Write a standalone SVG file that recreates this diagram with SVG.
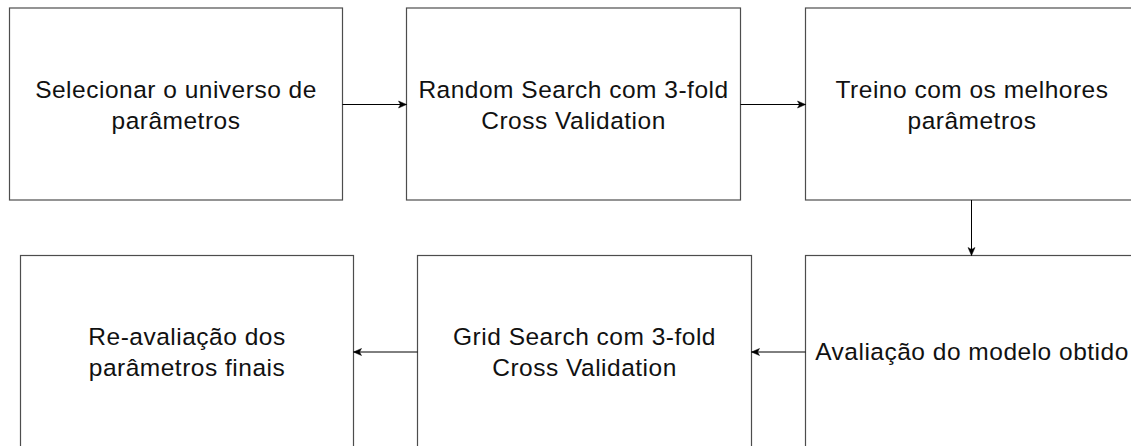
<svg xmlns="http://www.w3.org/2000/svg" width="1131" height="446" viewBox="0 0 1131 446">
  <defs>
    <style>
      .box { fill: #ffffff; stroke: #4d4d4d; stroke-width: 1.2; }
      .lbl { font-family: "Liberation Sans", Arial, Helvetica, sans-serif; font-size: 24.5px; letter-spacing: 0.5px; fill: #111111; text-anchor: middle; }
      .edge { fill: none; stroke: #000000; stroke-width: 1; marker-end: url(#arr); }
    </style>
    <marker id="arr" markerUnits="userSpaceOnUse" markerWidth="10" markerHeight="10" viewBox="0 0 10 10" refX="9" refY="5" orient="auto">
      <path d="M1,1.5 L9,5 L1,8.5 L3,5 Z" fill="#000000" stroke="#000000" stroke-width="0.5"/>
    </marker>
  </defs>
  <rect x="0" y="0" width="1131" height="446" fill="#ffffff"/>

  <g id="n1">
    <rect class="box" x="9.5" y="8" width="333" height="192"/>
    <text class="lbl" x="176" y="97.5">Selecionar o universo de</text>
    <text class="lbl" x="176" y="128.5">parâmetros</text>
  </g>
  <g id="n2">
    <rect class="box" x="406.5" y="8" width="334" height="192"/>
    <text class="lbl" x="573.5" y="97.5">Random Search com 3-fold</text>
    <text class="lbl" x="573.5" y="128.5">Cross Validation</text>
  </g>
  <g id="n3">
    <rect class="box" x="805.5" y="8" width="333" height="192"/>
    <text class="lbl" x="972" y="97.5">Treino com os melhores</text>
    <text class="lbl" x="972" y="128.5">parâmetros</text>
  </g>
  <g id="n4">
    <rect class="box" x="805.5" y="255.5" width="333" height="193"/>
    <text class="lbl" x="972" y="360">Avaliação do modelo obtido</text>
  </g>
  <g id="n5">
    <rect class="box" x="417.5" y="255.5" width="334" height="193"/>
    <text class="lbl" x="584.5" y="345">Grid Search com 3-fold</text>
    <text class="lbl" x="584.5" y="376">Cross Validation</text>
  </g>
  <g id="n6">
    <rect class="box" x="20.5" y="255.5" width="333" height="193"/>
    <text class="lbl" x="187" y="345">Re-avaliação dos</text>
    <text class="lbl" x="187" y="376">parâmetros finais</text>
  </g>

  <g id="connectors">
    <line class="edge" x1="342.5" y1="104.5" x2="406.5" y2="104.5"/>
    <line class="edge" x1="740.5" y1="104.5" x2="805.5" y2="104.5"/>
    <line class="edge" x1="971.5" y1="200" x2="971.5" y2="255.5"/>
    <line class="edge" x1="805.5" y1="352" x2="751.5" y2="352"/>
    <line class="edge" x1="417.5" y1="352" x2="353.5" y2="352"/>
  </g>
</svg>
